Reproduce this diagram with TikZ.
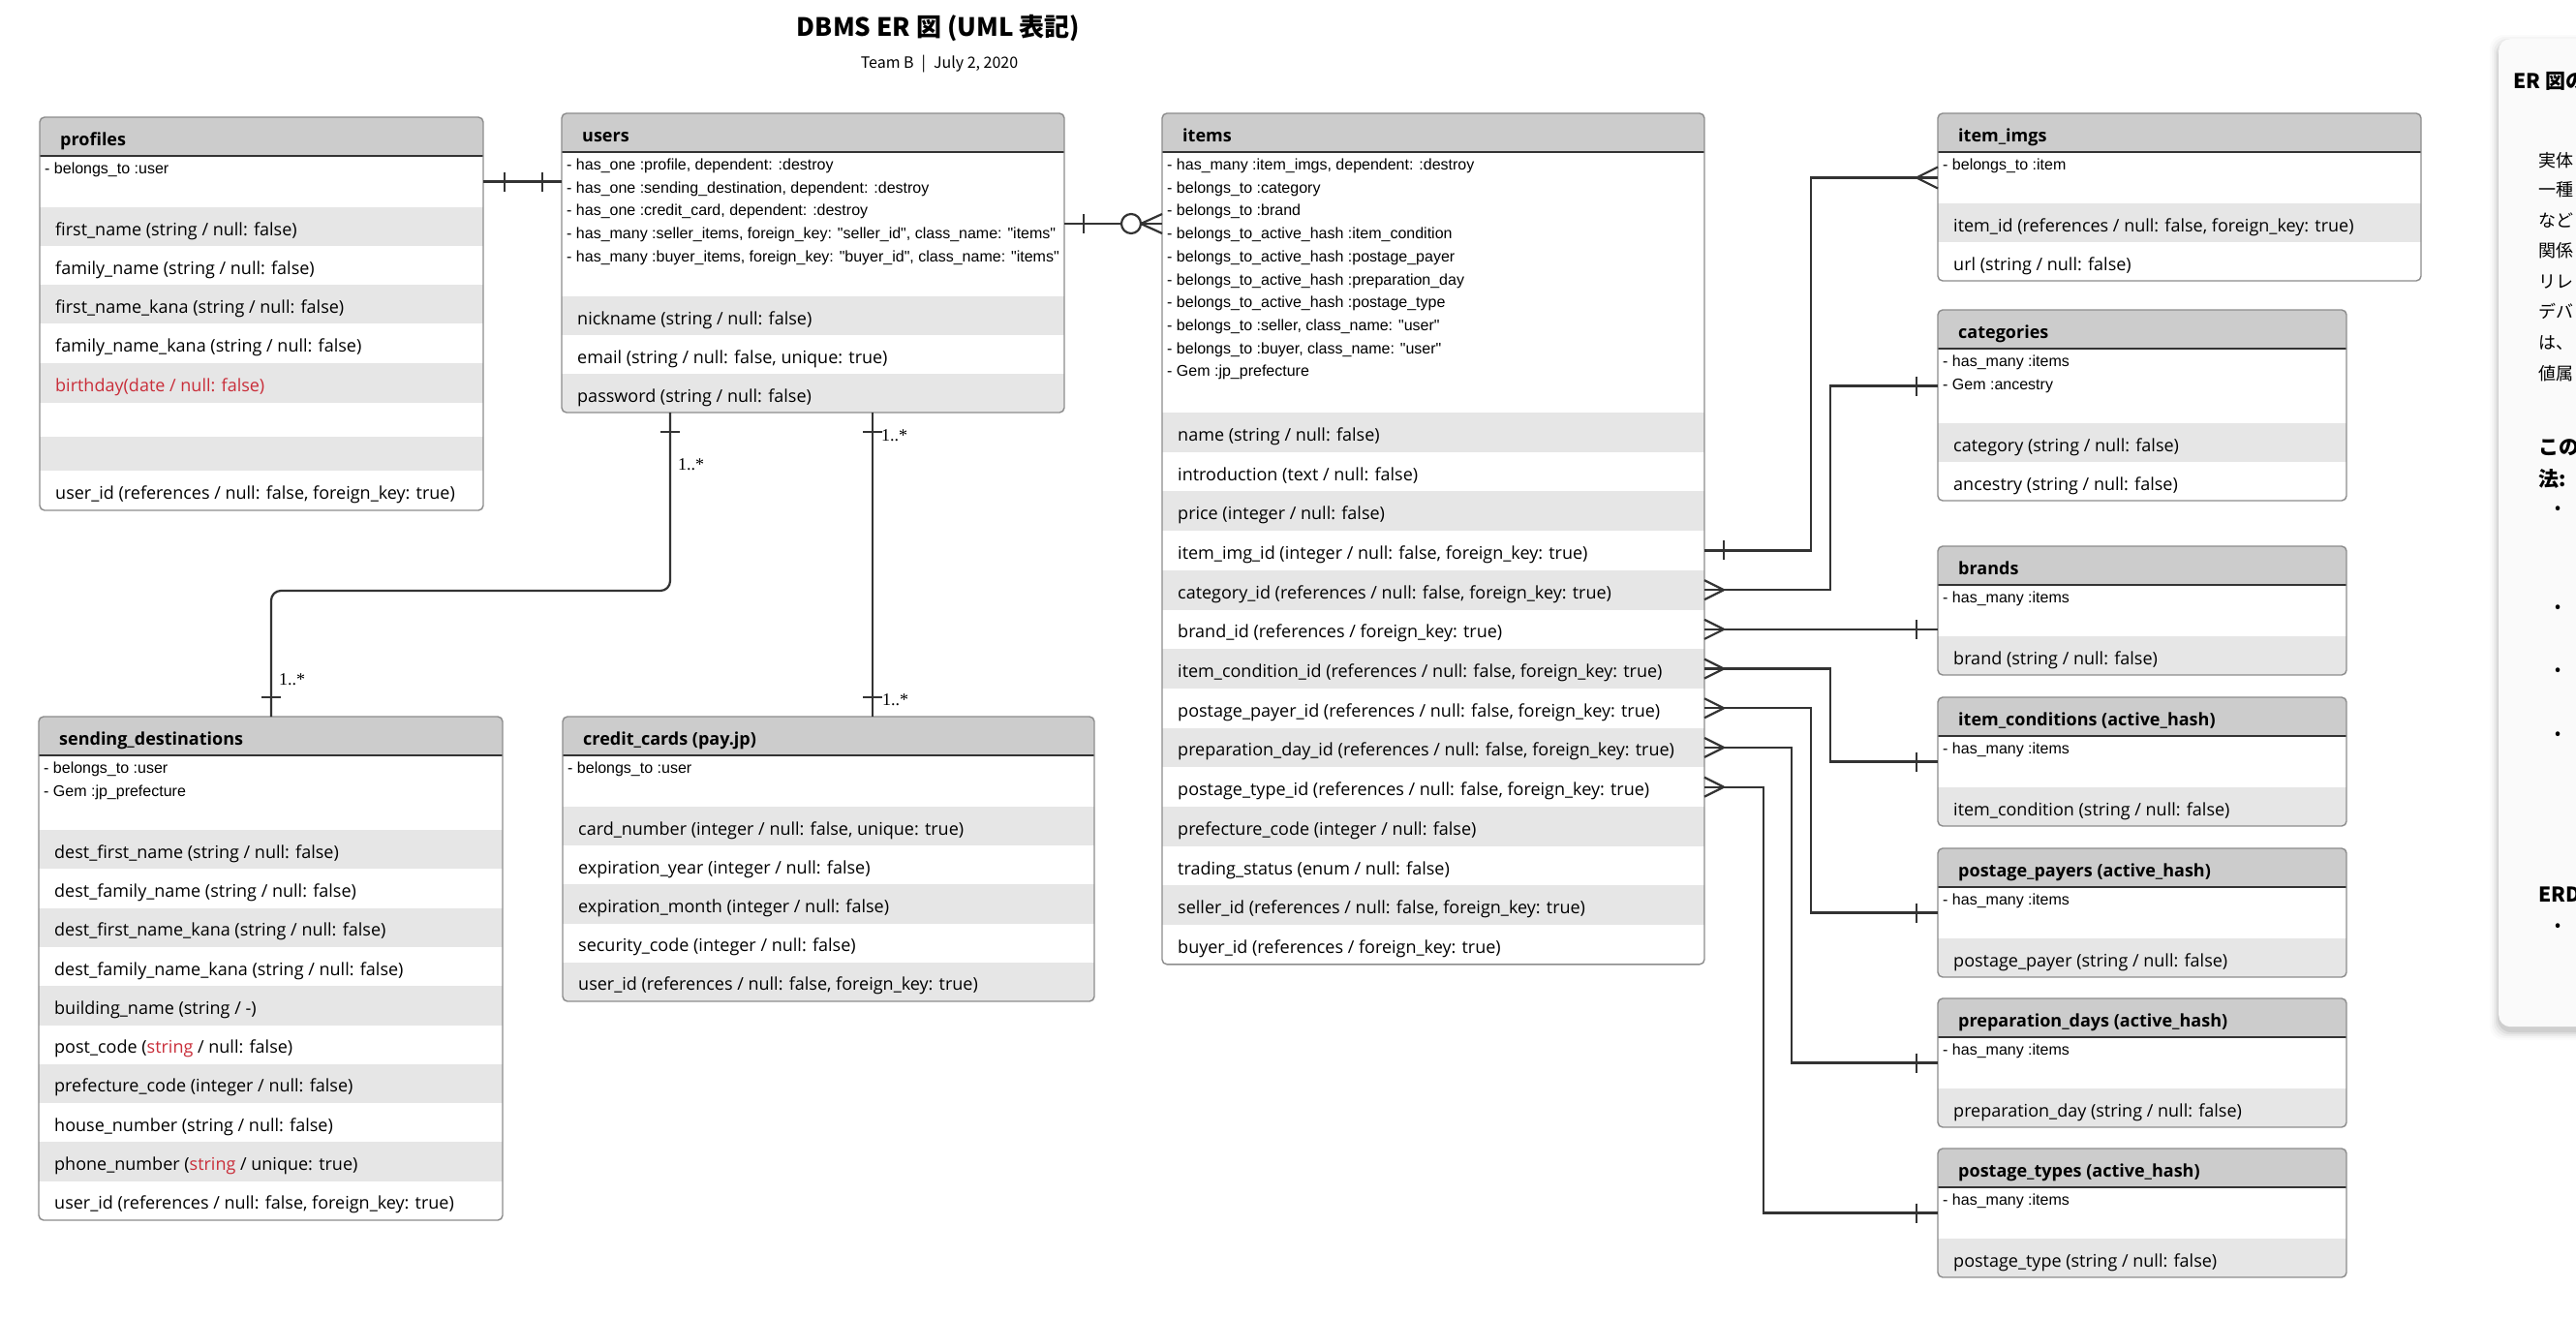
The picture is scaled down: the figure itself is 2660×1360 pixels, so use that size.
\documentclass[tikz,border=0pt]{standalone}
\usepackage{fontspec}
\setmainfont{Open Sans}
\newfontfamily\libsans{Liberation Sans}
\newfontfamily\libserif{Liberation Serif}
\newfontfamily\cjk{Noto Sans CJK JP}
\usetikzlibrary{calc}
\definecolor{hdrgrey}{HTML}{CCCCCC}
\definecolor{rowgrey}{HTML}{E6E6E6}
\definecolor{boxline}{HTML}{8C8C8C}
\definecolor{conncol}{HTML}{333333}
\definecolor{lucred}{HTML}{C92D39}
\definecolor{panelfill}{HTML}{FAFAFA}
\tikzset{
  conn/.style={draw=conncol, line width=2.2pt},
  meth/.style={anchor=base west, inner sep=0pt, font=\libsans\fontsize{16}{19}\selectfont},
  fld/.style={anchor=base west, inner sep=0pt, font=\fontsize{18}{22}\selectfont},
  hdrtxt/.style={anchor=base west, inner sep=0pt, font=\bfseries\fontsize{18}{22}\selectfont},
  boxborder/.style={draw=boxline, line width=1.4pt, rounded corners=5pt, inner sep=0pt, outer sep=0pt},
  multlbl/.style={anchor=west, inner sep=0pt, font=\libserif\fontsize{18}{20}\selectfont},
  paneltxt/.style={anchor=base west, inner sep=0pt, font=\cjk\fontsize{18}{22}\selectfont},
  panelhead/.style={anchor=base west, inner sep=0pt, font=\cjk\bfseries\fontsize{21}{24}\selectfont},
  bulletdot/.style={anchor=center, inner sep=0pt, font=\cjk\fontsize{18}{22}\selectfont},
}
% #1 name, #2 x1, #3 x2, #4 top, #5 number of method lines, #6 row heights, #7 title
\newcommand\erframe[7]{%
  \pgfmathsetmacro\erHdr{#4+40}%
  \pgfmathsetmacro\erMs{\erHdr+24*#5+29}%
  \xdef\erCur{\erMs}%
  \foreach \h in {#6}{\pgfmathsetmacro\erTmp{\erCur+\h}\xdef\erCur{\erTmp}}%
  \edef\erBot{\erCur}%
  \begin{scope}
    \clip[rounded corners=5pt] (#2,#4) rectangle (#3,\erBot);
    \fill[white] (#2,#4) rectangle (#3,\erBot);
    \fill[hdrgrey] (#2,#4) rectangle (#3,\erHdr);
    \xdef\erCur{\erMs}%
    \foreach \h [count=\k] in {#6}{%
      \pgfmathsetmacro\erTmp{\erCur+\h}%
      \ifodd\k\relax \fill[rowgrey] (#2,\erCur) rectangle (#3,\erTmp);\fi
      \coordinate (#1-w\k) at (#2,{(\erCur+\erTmp)/2});
      \coordinate (#1-e\k) at (#3,{(\erCur+\erTmp)/2});
      \coordinate (#1-t\k) at (#2+16,{(\erCur+\erTmp)/2+9});
      \xdef\erCur{\erTmp}%
    }
  \end{scope}
  \draw[draw=conncol, line width=1.4pt] (#2,\erHdr) -- (#3,\erHdr);
  \node[boxborder, minimum width={#3-#2}, minimum height={\erBot-#4}, anchor=north west] (#1) at (#2,#4) {};
  \node[hdrtxt] (#1-title) at (#2+21,{#4+29}) {#7};
  \foreach \k in {1,...,#5}{\coordinate (#1-m\k) at (#2+5,{\erHdr+18.5+23.7*(\k-1)});}
  \coordinate (#1-mw) at (#2,{(\erHdr+\erMs)/2});
  \coordinate (#1-me) at (#3,{(\erHdr+\erMs)/2});
}
\newcommand\methtxt[3]{\node[meth] (#1-mt#2) at (#1-m#2) {#3};}
\newcommand\fldtxt[3]{\node[fld] (#1-ft#2) at (#1-t#2) {#3};}
\begin{document}
\begin{tikzpicture}[x=1pt,y=-1pt]
\fill[white] (0,0) rectangle (2660,1360);
\useasboundingbox (0,0) rectangle (2660,1360);

% title
\node[font=\cjk\bfseries\fontsize{26}{30}\selectfont, anchor=base, inner sep=0pt] (title) at (969,37) {DBMS ER 図 (UML 表記)};
\node[font=\cjk\fontsize{16}{19}\selectfont, anchor=base, inner sep=0pt] (subtitle) at (970,70) {Team B\hspace{8pt}|\hspace{8pt}July 2, 2020};

% ---------- boxes ----------
\erframe{profiles}{41}{499}{121}{1}{40,40,40,41,41,35,35,41}{profiles}
\methtxt{profiles}{1}{- belongs\_to :user}
\fldtxt{profiles}{1}{first\_name (string / null: false)}
\fldtxt{profiles}{2}{family\_name (string / null: false)}
\fldtxt{profiles}{3}{first\_name\_kana (string / null: false)}
\fldtxt{profiles}{4}{family\_name\_kana (string / null: false)}
\fldtxt{profiles}{5}{\color{lucred}birthday(date / null: false)}
\fldtxt{profiles}{8}{user\_id (references / null: false, foreign\_key: true)}

\erframe{users}{580}{1099}{117}{5}{40,40,40}{users}
\methtxt{users}{1}{- has\_one :profile, dependent: :destroy}
\methtxt{users}{2}{- has\_one :sending\_destination, dependent: :destroy}
\methtxt{users}{3}{- has\_one :credit\_card, dependent: :destroy}
\methtxt{users}{4}{- has\_many :seller\_items, foreign\_key: "seller\_id", class\_name: "items"}
\methtxt{users}{5}{- has\_many :buyer\_items, foreign\_key: "buyer\_id", class\_name: "items"}
\fldtxt{users}{1}{nickname (string / null: false)}
\fldtxt{users}{2}{email (string / null: false, unique: true)}
\fldtxt{users}{3}{password (string / null: false)}

\erframe{items}{1200}{1760}{117}{10}{40.7,40.7,40.7,40.7,40.7,40.7,40.7,40.7,40.7,40.7,40.7,40.7,40.7,40.7}{items}
\methtxt{items}{1}{- has\_many :item\_imgs, dependent: :destroy}
\methtxt{items}{2}{- belongs\_to :category}
\methtxt{items}{3}{- belongs\_to :brand}
\methtxt{items}{4}{- belongs\_to\_active\_hash :item\_condition}
\methtxt{items}{5}{- belongs\_to\_active\_hash :postage\_payer}
\methtxt{items}{6}{- belongs\_to\_active\_hash :preparation\_day}
\methtxt{items}{7}{- belongs\_to\_active\_hash :postage\_type}
\methtxt{items}{8}{- belongs\_to :seller, class\_name: "user"}
\methtxt{items}{9}{- belongs\_to :buyer, class\_name: "user"}
\methtxt{items}{10}{- Gem :jp\_prefecture}
\fldtxt{items}{1}{name (string / null: false)}
\fldtxt{items}{2}{introduction (text / null: false)}
\fldtxt{items}{3}{price (integer / null: false)}
\fldtxt{items}{4}{item\_img\_id (integer / null: false, foreign\_key: true)}
\fldtxt{items}{5}{category\_id (references / null: false, foreign\_key: true)}
\fldtxt{items}{6}{brand\_id (references / foreign\_key: true)}
\fldtxt{items}{7}{item\_condition\_id (references / null: false, foreign\_key: true)}
\fldtxt{items}{8}{postage\_payer\_id (references / null: false, foreign\_key: true)}
\fldtxt{items}{9}{preparation\_day\_id (references / null: false, foreign\_key: true)}
\fldtxt{items}{10}{postage\_type\_id (references / null: false, foreign\_key: true)}
\fldtxt{items}{11}{prefecture\_code (integer / null: false)}
\fldtxt{items}{12}{trading\_status (enum / null: false)}
\fldtxt{items}{13}{seller\_id (references / null: false, foreign\_key: true)}
\fldtxt{items}{14}{buyer\_id (references / foreign\_key: true)}

\erframe{itemimgs}{2001}{2500}{117}{1}{40,40}{item\_imgs}
\methtxt{itemimgs}{1}{- belongs\_to :item}
\fldtxt{itemimgs}{1}{item\_id (references / null: false, foreign\_key: true)}
\fldtxt{itemimgs}{2}{url (string / null: false)}

\erframe{categories}{2001}{2423}{320}{2}{40,40}{categories}
\methtxt{categories}{1}{- has\_many :items}
\methtxt{categories}{2}{- Gem :ancestry}
\fldtxt{categories}{1}{category (string / null: false)}
\fldtxt{categories}{2}{ancestry (string / null: false)}

\erframe{brands}{2001}{2423}{564}{1}{40}{brands}
\methtxt{brands}{1}{- has\_many :items}
\fldtxt{brands}{1}{brand (string / null: false)}

\erframe{itemcond}{2001}{2423}{720}{1}{40}{item\_conditions (active\_hash)}
\methtxt{itemcond}{1}{- has\_many :items}
\fldtxt{itemcond}{1}{item\_condition (string / null: false)}

\erframe{postpay}{2001}{2423}{876}{1}{40}{postage\_payers (active\_hash)}
\methtxt{postpay}{1}{- has\_many :items}
\fldtxt{postpay}{1}{postage\_payer (string / null: false)}

\erframe{prepday}{2001}{2423}{1031}{1}{40}{preparation\_days (active\_hash)}
\methtxt{prepday}{1}{- has\_many :items}
\fldtxt{prepday}{1}{preparation\_day (string / null: false)}

\erframe{posttype}{2001}{2423}{1186}{1}{40}{postage\_types (active\_hash)}
\methtxt{posttype}{1}{- has\_many :items}
\fldtxt{posttype}{1}{postage\_type (string / null: false)}

\erframe{sending}{40}{519}{740}{2}{40.3,40.3,40.3,40.3,40.3,40.3,40.3,40.3,40.3,40.3}{sending\_destinations}
\methtxt{sending}{1}{- belongs\_to :user}
\methtxt{sending}{2}{- Gem :jp\_prefecture}
\fldtxt{sending}{1}{dest\_first\_name (string / null: false)}
\fldtxt{sending}{2}{dest\_family\_name (string / null: false)}
\fldtxt{sending}{3}{dest\_first\_name\_kana (string / null: false)}
\fldtxt{sending}{4}{dest\_family\_name\_kana (string / null: false)}
\fldtxt{sending}{5}{building\_name (string / -)}
\fldtxt{sending}{6}{post\_code ({\color{lucred}string} / null: false)}
\fldtxt{sending}{7}{prefecture\_code (integer / null: false)}
\fldtxt{sending}{8}{house\_number (string / null: false)}
\fldtxt{sending}{9}{phone\_number ({\color{lucred}string} / unique: true)}
\fldtxt{sending}{10}{user\_id (references / null: false, foreign\_key: true)}

\erframe{credit}{581}{1130}{740}{1}{40.2,40.2,40.2,40.2,40.2}{credit\_cards (pay.jp)}
\methtxt{credit}{1}{- belongs\_to :user}
\fldtxt{credit}{1}{card\_number (integer / null: false, unique: true)}
\fldtxt{credit}{2}{expiration\_year (integer / null: false)}
\fldtxt{credit}{3}{expiration\_month (integer / null: false)}
\fldtxt{credit}{4}{security\_code (integer / null: false)}
\fldtxt{credit}{5}{user\_id (references / null: false, foreign\_key: true)}

% ---------- connectors ----------
% profiles -- users (one to one)
\draw[conn] (profiles-me) -- (users.west |- profiles-me);
\draw[conn] ($(profiles-me)+(22,-10)$) -- ($(profiles-me)+(22,10)$);
\draw[conn] ($(users.west |- profiles-me)+(-20,-10)$) -- ($(users.west |- profiles-me)+(-20,10)$);

% users -- items (one to zero-or-many)
\coordinate (uiA) at (users.east |- 0,231);
\coordinate (uiB) at (items.west |- 0,231);
\draw[conn] (uiA) -- (uiB);
\draw[conn] ($(uiA)+(20,-10)$) -- ($(uiA)+(20,10)$);
\draw[conn, fill=white] ($(uiB)+(-32,0)$) circle[radius=10pt];
\draw[conn] ($(uiB)+(-22,0)$) -- ($(uiB)+(0,-10)$);
\draw[conn] ($(uiB)+(-22,0)$) -- ($(uiB)+(0,10)$);

% users -- sending_destinations
\draw[conn, rounded corners=10pt] (users.south -| 692,0) -- (692,610) -- (280,610) -- (sending.north -| 280,0);
\draw[conn] (682,446) -- (702,446);
\draw[conn] (270,720) -- (290,720);
\node[multlbl] (lblA) at (700,480) {1..*};
\node[multlbl] (lblB) at (288,702) {1..*};

% users -- credit_cards
\draw[conn] (users.south -| 901,0) -- (credit.north -| 901,0);
\draw[conn] (891,446) -- (911,446);
\draw[conn] (891,720) -- (911,720);
\node[multlbl] (lblC) at (910,450) {1..*};
\node[multlbl] (lblD) at (911,723) {1..*};

% items -- item_imgs
\draw[conn] (items-e4) -- ++(110,0) |- (itemimgs-mw);
\draw[conn] ($(items-e4)+(20,-10)$) -- ($(items-e4)+(20,10)$);
\draw[conn] ($(itemimgs-mw)+(-22,0)$) -- ($(itemimgs-mw)+(0,-11)$);
\draw[conn] ($(itemimgs-mw)+(-22,0)$) -- ($(itemimgs-mw)+(0,11)$);

% many-side crow feet on items
\foreach \r in {5,6,7,8,9,10}{
  \draw[conn] ($(items-e\r)+(20,0)$) -- ($(items-e\r)+(0,-10)$);
  \draw[conn] ($(items-e\r)+(20,0)$) -- ($(items-e\r)+(0,10)$);
}
% items -- categories
\draw[conn] (items-e5) -- ++(130,0) |- (categories-mw);
\draw[conn] ($(categories-mw)+(-22,-10)$) -- ($(categories-mw)+(-22,10)$);
% items -- brands
\draw[conn] (items-e6) -- (brands.west |- items-e6);
\draw[conn] ($(brands.west |- items-e6)+(-22,-10)$) -- ($(brands.west |- items-e6)+(-22,10)$);
% items -- item_conditions
\draw[conn] (items-e7) -- ++(130,0) |- (itemcond-mw);
\draw[conn] ($(itemcond-mw)+(-22,-10)$) -- ($(itemcond-mw)+(-22,10)$);
% items -- postage_payers
\draw[conn] (items-e8) -- ++(110,0) |- (postpay-mw);
\draw[conn] ($(postpay-mw)+(-22,-10)$) -- ($(postpay-mw)+(-22,10)$);
% items -- preparation_days
\draw[conn] (items-e9) -- ++(90,0) |- (prepday-mw);
\draw[conn] ($(prepday-mw)+(-22,-10)$) -- ($(prepday-mw)+(-22,10)$);
% items -- postage_types
\draw[conn] (items-e10) -- ++(61,0) |- (posttype-mw);
\draw[conn] ($(posttype-mw)+(-22,-10)$) -- ($(posttype-mw)+(-22,10)$);

% ---------- right panel ----------
\foreach \s/\o in {9/0.015,7/0.025,5/0.035,3/0.05,1/0.07}{
  \fill[black, opacity=\o, rounded corners=14pt] (2580-\s,40-\s+5) rectangle (2820+\s,1060+\s+5);
}
\node[fill=panelfill, rounded corners=12pt, minimum width=240pt, minimum height=1020pt, anchor=north west, inner sep=0pt] (panel) at (2580,40) {};
\node[panelhead] (ph1) at (2595,91) {ER 図の};
\node[paneltxt] (pt1) at (2621,172) {実体};
\node[paneltxt] (pt2) at (2621,202) {一種};
\node[paneltxt] (pt3) at (2621,234) {など};
\node[paneltxt] (pt4) at (2621,265) {関係};
\node[paneltxt] (pt5) at (2621,297) {リレ};
\node[paneltxt] (pt6) at (2621,328) {デバ};
\node[paneltxt] (pt7) at (2621,360) {は、};
\node[paneltxt] (pt8) at (2621,392) {値属};
\node[panelhead] (ph2) at (2621,469) {この};
\node[panelhead] (ph3) at (2621,502) {法:};
\node[bulletdot] (b1) at (2642,527) {•};
\node[bulletdot] (b2) at (2642,629) {•};
\node[bulletdot] (b3) at (2642,694) {•};
\node[bulletdot] (b4) at (2642,760) {•};
\node[panelhead] (ph4) at (2621,931) {ERD};
\node[bulletdot] (b5) at (2642,958) {•};
\end{tikzpicture}
\end{document}
